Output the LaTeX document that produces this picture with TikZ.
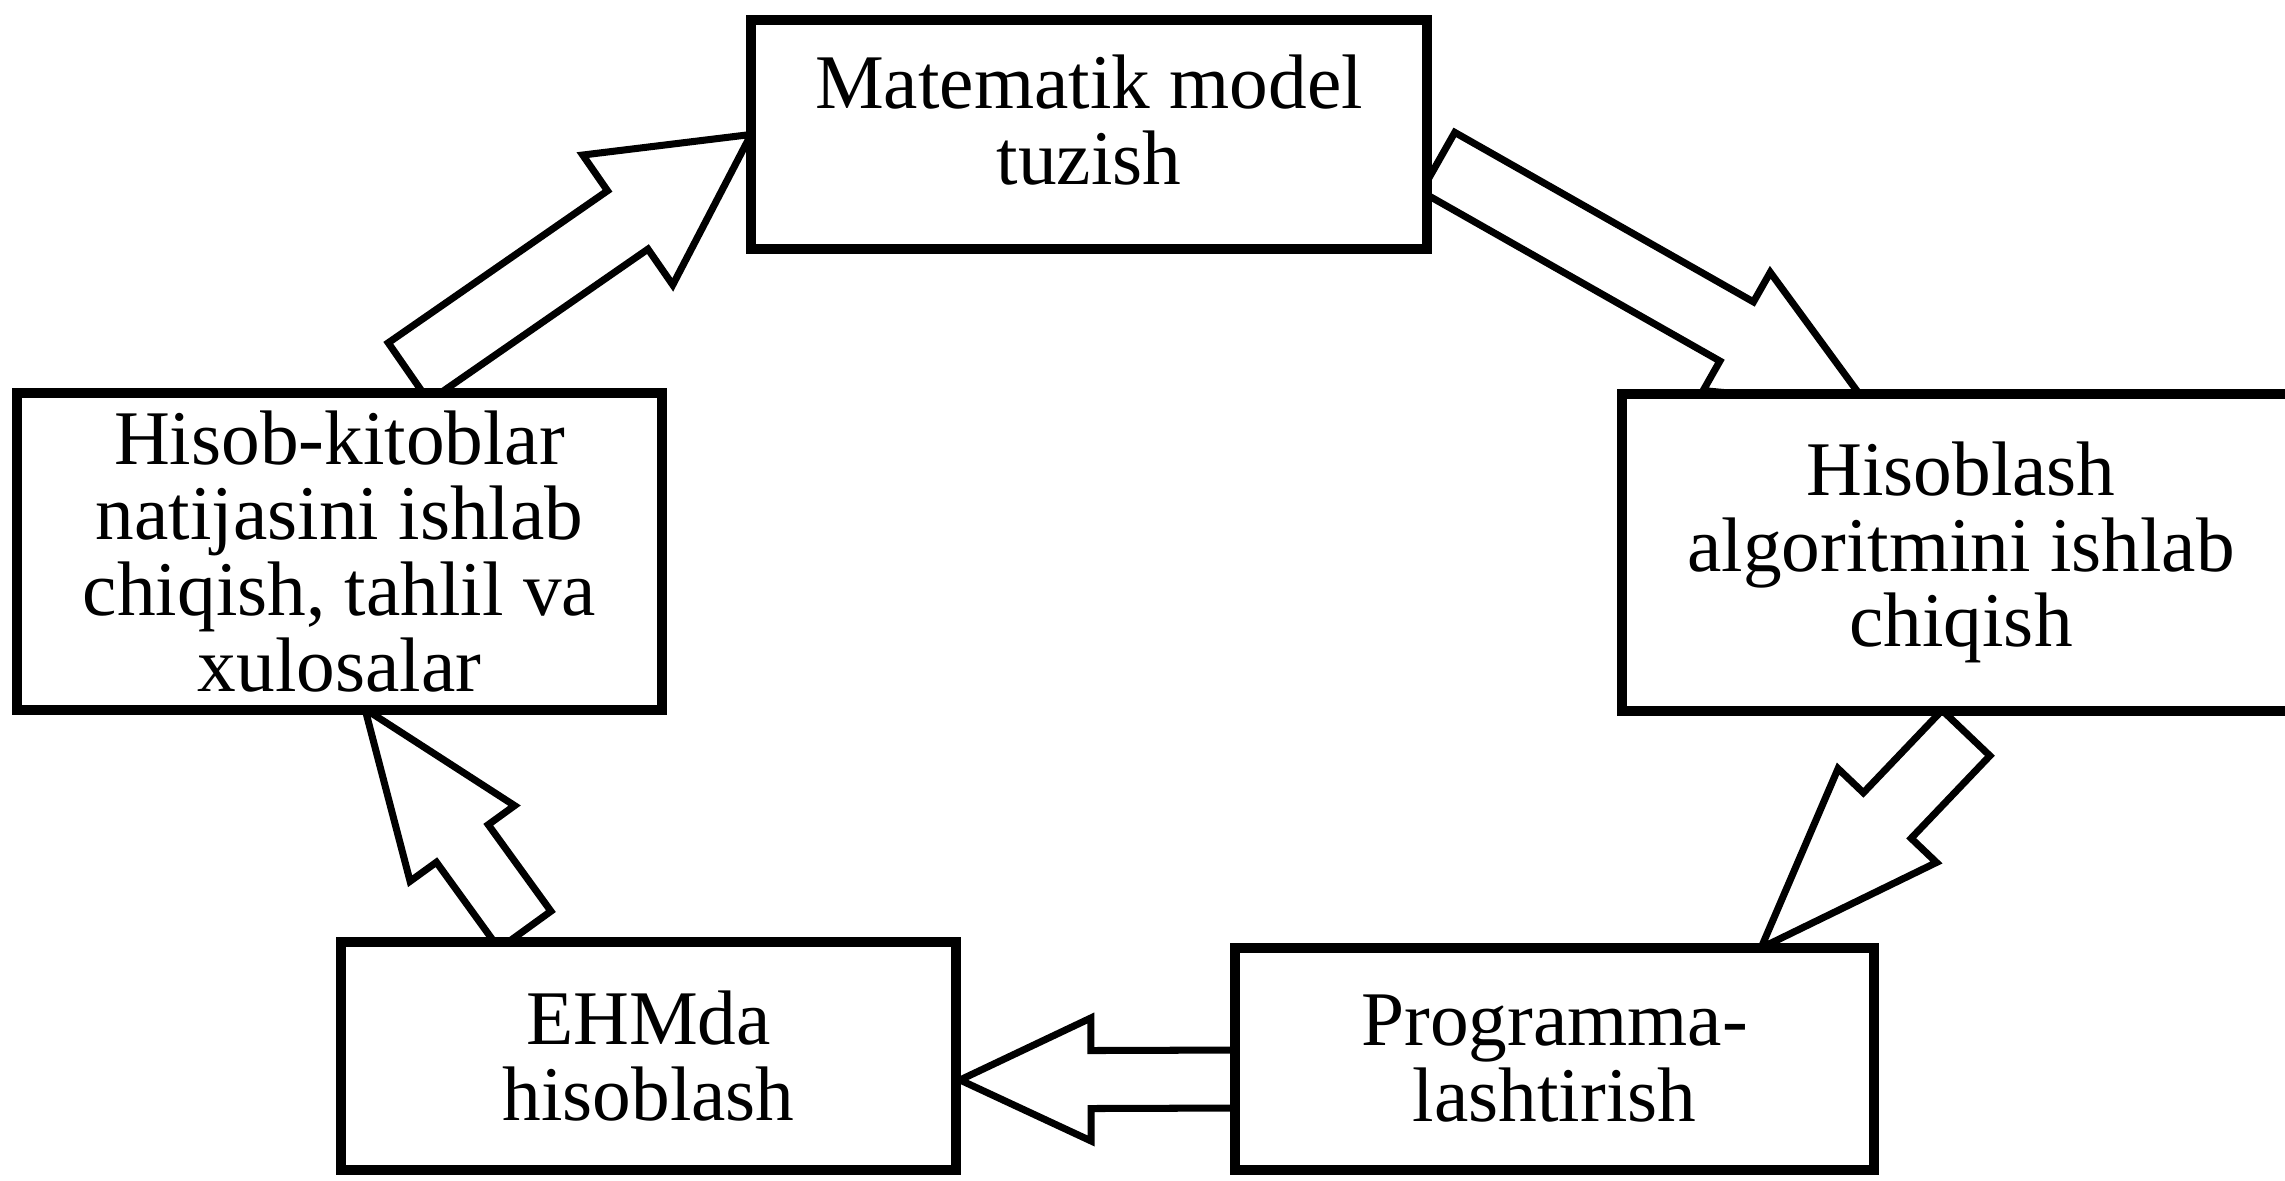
\documentclass[tikz,border=0pt]{standalone}
\usepackage{fontspec}
\setmainfont{Liberation Serif}
\usetikzlibrary{calc,backgrounds}

% block arrow: tail, tip, half shaft width, half head width, head length (cm)
\newcommand{\bolt}[5]{%
  \path (#1) coordinate (bt) (#2) coordinate (bh) ($(bh)!#5cm!(bt)$) coordinate (bb);
  \draw[bolt] ($(bt)!#3cm!90:(bh)$) -- ($(bb)!#3cm!90:(bh)$) -- ($(bb)!#4cm!90:(bh)$) -- (bh)
    -- ($(bb)!#4cm!-90:(bh)$) -- ($(bb)!#3cm!-90:(bh)$) -- ($(bt)!#3cm!-90:(bh)$) -- cycle;}

\begin{document}
\begin{tikzpicture}[font=\fontsize{22}{21.6}\selectfont,
    box/.style={draw,line width=2.8pt,fill=white,inner sep=0pt,outer sep=0pt,align=center},
    bolt/.style={draw,line width=2pt,fill=white}]
  \useasboundingbox (0,0) rectangle (22.85,11.81);

  \node[box,minimum width=6.76cm,minimum height=2.29cm,text depth=0.3cm] (mm) at (10.89,10.465) {Matematik model\\tuzish};
  \node[box,minimum width=6.78cm,minimum height=3.17cm] (alg) at (19.61,6.285) {Hisoblash\\algoritmini ishlab\\chiqish};
  \node[box,minimum width=6.39cm,minimum height=2.22cm] (prog) at (15.545,1.22) {Programma-\\lashtirish};
  \node[box,minimum width=6.15cm,minimum height=2.28cm] (ehm) at (6.485,1.25) {EHMda\\hisoblash};
  \node[box,minimum width=6.45cm,minimum height=3.17cm] (res) at (3.395,6.295) {Hisob-kitoblar\\natijasini ishlab\\chiqish, tahlil va\\xulosalar};

  \begin{scope}[on background layer]
    \bolt{$(res.north)+(0.69,0.21)$}{mm.west}{0.355}{0.79}{1.5}
    \bolt{$(mm.east)+(0.11,-0.275)$}{$(alg.north)+(-0.93,-0.12)$}{0.34}{0.68}{1.51}
    \bolt{$(alg.south)+(0.05,-0.22)$}{$(prog.north)+(2.065,0)$}{0.33}{0.68}{1.83}
    \bolt{$(prog.west)+(0.15,-0.2)$}{$(ehm.east)+(0.04,-0.24)$}{0.29}{0.615}{1.31}
    \bolt{$(ehm.north)+(-1.235,0.12)$}{$(res.south)+(0.255,0.01)$}{0.32}{0.645}{1.66}
  \end{scope}
\end{tikzpicture}
\end{document}
